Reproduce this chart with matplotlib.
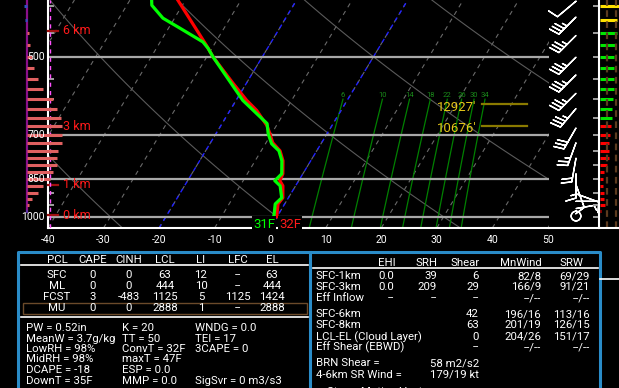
#Skew-T 探空图 + 参数表
import numpy as np
import matplotlib
matplotlib.use('Agg')
import matplotlib.pyplot as plt
from matplotlib.ticker import NullLocator, NullFormatter

plt.rcParams['font.family'] = ['Roboto', 'DejaVu Sans']

#数据
temp_p = [390, 475, 500, 560, 603, 630, 673, 697, 725, 751, 784, 830, 855, 874, 921, 946, 988, 1000]
temp_c = [-41.4, -31.3, -28.8, -22.4, -18.1, -15.2, -11.7, -10.3, -8.8, -6.6, -5.0, -3.6, -3.4, -2.3, -1.0, -1.2, -0.3, 0.0]
dwpt_p = [390, 399, 422, 441, 468, 481, 500, 603, 667, 697, 728, 751, 784, 830, 855, 874, 921, 946, 988, 1000]
dwpt_c = [-46.1, -45.5, -42.1, -37.9, -32.3, -30.7, -28.8, -18.8, -11.9, -10.6, -8.9, -6.8, -5.2, -3.8, -4.3, -2.8, -1.2, -1.7, -0.8, -0.6]

lev_p = [400, 425, 450, 475, 500, 525, 550, 575, 600, 625, 650, 675,
         700, 725, 750, 775, 800, 825, 850, 875, 900, 925, 950, 975]
omega = [-3, -2, 2, 3, 5, 7, 11, 16, 26, 30, 34, 35,
         35, 35, 31, 30, 30, 26, 23, 16, 11, 5, 2, -1]
adv_len = [20, 18, 18, 17, 15, 15, 15, 15, 14, 13, 13, 12,
           11, 10, 10, 10, 8, 5, 4, 4, 5, 5, 6, 2]
adv_cat = ['Y', 'Y', 'G', 'G', 'G', 'G', 'G', 'G', 'G', 'G', 'G', 'R',
           'R', 'R', 'R', 'R', 'R', 'R', 'R', 'R', 'R', 'R', 'R', 'R']

wind_p = [392, 420, 455, 500, 540, 585, 625, 680, 725, 775, 830, 870, 905, 935, 965, 997]
wind_dir = [230, 225, 225, 225, 225, 225, 220, 210, 200, 190, 180, 160, 110, 90, 80, 0]
wind_spd = [10, 35, 35, 35, 35, 35, 35, 30, 25, 20, 15, 10, 10, 10, 5, 0]

hgt_lbl = ['6 km', '3 km', '1 km', '0 km']
hgt_p = [446, 676, 870, 994]
lvl_lbl = ["12927'", "10676'"]
lvl_p = [614, 673]

mix_w = [6, 10, 14, 18, 22, 26, 30, 34]
isobars = [500, 700, 850, 1000]
sfc_t_f, sfc_td_f = 32, 31

pcl_cols = ['PCL', 'CAPE', 'CINH', 'LCL', 'LI', 'LFC', 'EL']
pcl_rows = [['SFC', '0', '0', '63', '12', '--', '63'],
            ['ML', '0', '0', '444', '10', '--', '444'],
            ['FCST', '3', '-483', '1125', '5', '1125', '1424'],
            ['MU', '0', '0', '2888', '1', '--', '2888']]
idx_left = ['PW = 0.52in', 'MeanW = 3.7g/kg', 'LowRH = 98%', 'MidRH = 98%', 'DCAPE = -18', 'DownT = 35F']
idx_mid = ['K = 20', 'TT = 50', 'ConvT = 32F', 'maxT = 47F', 'ESP = 0.0', 'MMP = 0.0']
idx_right = ['WNDG = 0.0', 'TEI = 17', '3CAPE = 0', '', '', 'SigSvr = 0 m3/s3']

kin_cols = ['EHI', 'SRH', 'Shear', 'MnWind', 'SRW']
kin_rows = [['SFC-1km', '0.0', '39', '6', '82/8', '69/29'],
            ['SFC-3km', '0.0', '209', '29', '166/9', '91/21'],
            ['Eff Inflow', '--', '--', '--', '--/--', '--/--'],
            ['SFC-6km', '', '', '42', '196/16', '113/16'],
            ['SFC-8km', '', '', '63', '201/19', '126/15'],
            ['LCL-EL (Cloud Layer)', '', '', '0', '204/26', '151/17'],
            ['Eff Shear (EBWD)', '', '', '--', '--/--', '--/--']]
brn = ['BRN Shear =', '58 m2/s2']
srw46 = ['4-6km SR Wind =', '179/19 kt']

#参数
W, H = 619, 388
P_BOT, P_TOP = 1050., 390.
SKEW = 25.0
XMAX = 50.2

def skew(t, p):
    return np.asarray(t) + SKEW * np.log(P_BOT / np.asarray(p, dtype=float))

def rect(x0, y0, x1, y1):
    return [x0 / W, 1 - y1 / H, (x1 - x0) / W, (y1 - y0) / H]

def logy(a):
    a.set_yscale('log')
    a.set_ylim(P_BOT, P_TOP)
    a.yaxis.set_minor_locator(NullLocator())
    a.yaxis.set_minor_formatter(NullFormatter())

fig = plt.figure(figsize=(W / 100, H / 100), dpi=100, facecolor='black')
bg = fig.add_axes([0, 0, 1, 1])
bg.set_xlim(0, W)
bg.set_ylim(H, 0)
bg.axis('off')

#主图
ax = fig.add_axes(rect(48, 0, 549, 228))
logy(ax)
ax.set_facecolor('black')
ax.set_xlim(-40, XMAX)
pp = np.linspace(P_BOT, P_TOP, 100)
for t in range(-110, 51, 10):
    ax.plot(skew([t, t], [P_BOT, P_TOP]), [P_BOT, P_TOP], color='#6a6a6a', lw=0.8, dashes=(4, 4))
for th in range(-60, 181, 30):
    tt = (th + 273.15) * (pp / 1000.) ** 0.2857 - 273.15
    ax.plot(skew(tt, pp), pp, color='#5a5a5a', lw=0.8)
pm = np.linspace(P_BOT, 600, 30)
for w in mix_w:
    e = w * pm / (622. + w)
    a = np.log(e / 6.112)
    td = 243.5 * a / (17.67 - a)
    ax.plot(skew(td, pm), pm, color='#008000', lw=0.9)
    ax.text(skew(td[-1], 600), 590, str(w), color='#1a8a1a', fontsize=5.5, ha='center', va='center')
for t in (-20, 0):
    ax.plot(skew([t, t], [P_BOT, P_TOP]), [P_BOT, P_TOP], color='#2020ff', lw=1.0, dashes=(3, 3))
for p in isobars:
    ax.plot([-40, XMAX], [p, p], color='#a8a8a8', lw=1.6)

ax.plot(skew(temp_c, temp_p), temp_p, color='#ff0000', lw=2.3, zorder=5)
ax.plot(skew(dwpt_c, dwpt_p), dwpt_p, color='#00ff00', lw=2.3, zorder=6)

for lbl, p in zip(lvl_lbl, lvl_p):
    ax.plot([38.2, 46.3], [p, p], color='#8a7a00', lw=1.6, zorder=4)
    ax.text(38.2 - 1.0, p * 1.012, lbl, color='#e6c619', fontsize=9.5, ha='right', va='center', zorder=7)

for lbl, p in zip(hgt_lbl, hgt_p):
    ax.plot([-40, -38.2], [p, p], color='#a01010', lw=1.6, zorder=7, clip_on=False)
    ax.text(-37.3, p, lbl, color='#ff1a1a', fontsize=9, ha='left', va='center', zorder=7)

ax.axvline(-39.55, color='#ff50ff', lw=1.0, dashes=(3, 3), zorder=7)

ax.set_xticks(range(-40, 51, 10))
ax.set_xticklabels([str(v) for v in range(-40, 51, 10)])
ax.tick_params(axis='x', colors='white', length=0, pad=5, labelsize=7.5)
ax.set_yticks([400, 450, 550, 600, 650, 750, 800, 900, 950])
ax.set_yticklabels([])
ax.tick_params(axis='y', direction='in', length=4, width=1.4, color='#a0a0a0')
for s in ('top', 'right'):
    ax.spines[s].set_visible(False)
for s in ('left', 'bottom'):
    ax.spines[s].set_color('white')
    ax.spines[s].set_linewidth(1.5)

ax.text(264, 224, '%dF' % sfc_td_f, color='#00ff00', fontsize=9.5, ha='center', va='center',
        transform=bg.transData, clip_on=False, zorder=9,
        bbox=dict(facecolor='black', edgecolor='none', pad=1.0))
ax.text(290, 224, '%dF' % sfc_t_f, color='#ff1a1a', fontsize=9.5, ha='center', va='center',
        transform=bg.transData, clip_on=False, zorder=9,
        bbox=dict(facecolor='black', edgecolor='none', pad=1.0))

#左侧 omega (画在主图之上)
axl = fig.add_axes(rect(0, 0, 48, 228))
logy(axl)
axl.set_xlim(-27, 21)
axl.axis('off')
axl.plot([0, 0], [980, P_TOP], color='#8a108a', lw=1.6)
for p, v in zip(lev_p, omega):
    axl.plot([0, v], [p, p], color='#e06060' if v > 0 else '#3050c0', lw=2.2,
             solid_capstyle='butt', clip_on=False)
for p in isobars:
    axl.text(18, p, str(p), color='white', fontsize=7.5, ha='right', va='center', zorder=5)

#风羽
axw = fig.add_axes(rect(549, 0, 599, 228))
logy(axw)
axw.set_facecolor('black')
axw.set_xlim(0, 50)
axw.set_xticks([])
axw.set_yticks([])
for s in ('top', 'right', 'left'):
    axw.spines[s].set_visible(False)
axw.spines['bottom'].set_color('white')
axw.spines['bottom'].set_linewidth(1.5)
rad = np.deg2rad(wind_dir)
u = -np.array(wind_spd) * np.sin(rad)
v = -np.array(wind_spd) * np.cos(rad)
axw.barbs(np.full(len(wind_p), 27.0), wind_p, u, v, color='white', length=5.9, linewidth=1.0,
          sizes=dict(emptybarb=0.2, spacing=0.16, height=0.42), clip_on=False)

#右侧色条
axr = fig.add_axes(rect(599, 0, 619, 228))
logy(axr)
axr.set_facecolor('black')
axr.set_xlim(0, 20)
cmap = {'Y': '#ffe000', 'G': '#00e600', 'R': '#ff0000'}
for p, n, c in zip(lev_p, adv_len, adv_cat):
    axr.plot([0.5, n], [p, p], color=cmap[c], lw=2.2, solid_capstyle='butt')
for xx in (8, 17):
    axr.axvline(xx, color='#5c3a1e', lw=1.6, dashes=(3, 2))
axr.set_xticks([])
axr.set_yticks([400, 450, 500, 550, 600, 650, 700, 750, 800, 850, 900, 950, 1000])
axr.tick_params(axis='y', direction='out', length=4, width=1.4, color='#a0a0a0', labelleft=False)
for s in ('top', 'right'):
    axr.spines[s].set_visible(False)
for s in ('left', 'bottom'):
    axr.spines[s].set_color('white')
    axr.spines[s].set_linewidth(1.5)

#参数表
fs = 8.2
blue = '#2a8cc8'
bg.plot([18, 18, 600, 600], [400, 252, 252, 400], color=blue, lw=2.2)
bg.plot([310, 310], [252, 400], color=blue, lw=2.2)
bg.plot([600, 619], [279, 279], color='white', lw=1.2)
bg.plot([21, 308], [265, 265], color='white', lw=1.2)
bg.plot([21, 308], [317, 317], color='white', lw=1.2)
bg.plot([313, 598], [268, 268], color='white', lw=1.2)
bg.add_patch(plt.Rectangle((23, 303), 284, 11, fill=False, edgecolor='#6b4a2a', lw=1.0))

pcl_x = [57, 93, 129, 165, 201, 238, 272]
for x, c in zip(pcl_x, pcl_cols):
    bg.text(x, 260, c, color='white', fontsize=fs, ha='center', va='center')
for y, row in zip([275, 286, 297, 308], pcl_rows):
    for x, c in zip(pcl_x, row):
        bg.text(x, y, c, color='white', fontsize=fs, ha='center', va='center')
idx_y = [328, 338.5, 349, 359.5, 370, 380.5]
for y, a, b, c in zip(idx_y, idx_left, idx_mid, idx_right):
    bg.text(26, y, a, color='white', fontsize=fs, ha='left', va='center')
    bg.text(122, y, b, color='white', fontsize=fs, ha='left', va='center')
    bg.text(195, y, c, color='white', fontsize=fs, ha='left', va='center')

kin_hx = [387, 427, 465, 521, 572]
kin_rx = [394.5, 437, 479, 541, 590]
for x, c in zip(kin_hx, kin_cols):
    bg.text(x, 263, c, color='white', fontsize=fs, ha='center', va='center')
for y, row in zip([276, 287, 298, 314, 325, 337, 347.5], kin_rows):
    bg.text(316, y, row[0], color='white', fontsize=fs, ha='left', va='center')
    for x, c in zip(kin_rx, row[1:]):
        bg.text(x, y, c, color='white', fontsize=fs, ha='right', va='center')
for y, pair in zip([363.5, 374.5], [brn, srw46]):
    bg.text(316, y, pair[0], color='white', fontsize=fs, ha='left', va='center')
    bg.text(479, y, pair[1], color='white', fontsize=fs, ha='right', va='center')
bg.text(327, 392, 'Storm Motion Vectors', color='white', fontsize=fs, ha='left', va='center')

fig.savefig('out.png', dpi=100, facecolor='black')
